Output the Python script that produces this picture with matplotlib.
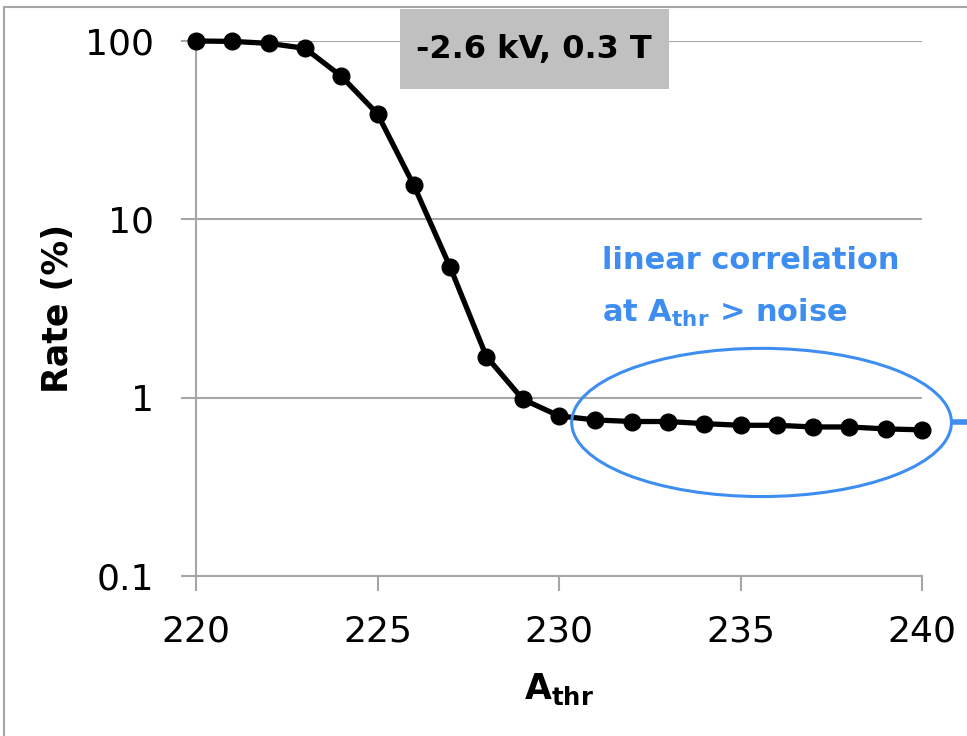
import matplotlib
matplotlib.use('Agg')
import matplotlib.pyplot as plt
from matplotlib.patches import Ellipse, Rectangle
from matplotlib.lines import Line2D

# threshold scan, -2.6 kV / 0.3 T
a_thr = [220, 221, 222, 223, 224, 225, 226, 227, 228, 229, 230,
         231, 232, 233, 234, 235, 236, 237, 238, 239, 240]
rate = [100, 99.5, 97, 91, 63.5, 39, 15.5, 5.4, 1.7, 0.98, 0.79,
        0.75, 0.735, 0.735, 0.715, 0.70, 0.70, 0.685, 0.685, 0.668, 0.66]
y_ticks = [0.1, 1, 10, 100]
y_ticklabels = ['0.1', '1', '10', '100']
x_ticks = [220, 225, 230, 235, 240]

grid_col = '#a6a6a6'
blue = '#3d8ef0'

plt.rcParams['font.family'] = 'DejaVu Sans'

fig = plt.figure(figsize=(9.67, 7.36), dpi=100)
ax = fig.add_axes([0.2027, 0.2174, 0.7508, 0.7269])

ax.plot(a_thr, rate, '-', color='black', linewidth=3.8,
        marker='o', markersize=12, zorder=5, clip_on=False)

ax.set_yscale('log')
ax.set_ylim(0.1, 100)
ax.set_xlim(220, 240)
ax.set_yticks(y_ticks)
ax.set_yticklabels(y_ticklabels)
ax.minorticks_off()
ax.set_xticks(x_ticks)
ax.yaxis.grid(True, color=grid_col, linewidth=1.5)
ax.set_axisbelow(True)
for s in ['top', 'right']:
    ax.spines[s].set_visible(False)
for s in ['left', 'bottom']:
    ax.spines[s].set_color(grid_col)
    ax.spines[s].set_linewidth(1.5)
ax.tick_params(axis='both', colors=grid_col, width=1.5, length=10.5,
               labelcolor='black', labelsize=26)
ax.tick_params(axis='x', pad=17)
ax.tick_params(axis='y', pad=20)

ax.set_ylabel('Rate (%)', fontsize=25, fontweight='bold', va='center')
ax.yaxis.set_label_coords(-0.19, 0.5)
ax.set_xlabel(r'A$_{\mathbf{thr}}$', fontsize=25, fontweight='bold', va='top')
ax.xaxis.set_label_coords(0.5, -0.178)

# annotation box at top
fig.add_artist(Rectangle((0.4137, 0.879), 0.278, 0.1087, transform=fig.transFigure,
                         facecolor='#c0c0c0', edgecolor='none', zorder=3))
fig.text(0.5525, 0.933, '-2.6 kV, 0.3 T', fontsize=23, fontweight='bold',
         ha='center', va='center', zorder=4)

# blue annotation
fig.text(0.6225, 0.634, 'linear correlation', color=blue, fontsize=22,
         fontweight='bold', va='baseline')
fig.text(0.6225, 0.563, r'at A$_{\mathbf{thr}}$ > noise', color=blue, fontsize=22,
         fontweight='bold', va='baseline')
ell = Ellipse((0.779, 0.287), 0.523, 0.277, transform=ax.transAxes,
              fill=False, edgecolor=blue, linewidth=2.2, clip_on=False, zorder=6)
ax.add_patch(ell)
fig.add_artist(Line2D([0.987, 1.0], [0.426, 0.426], color=blue, linewidth=4))

# outer frame
fig.add_artist(Line2D([0.0041, 0.0041], [0.0, 0.9905], color=grid_col, linewidth=1.5))
fig.add_artist(Line2D([0.0041, 1.0], [0.9905, 0.9905], color=grid_col, linewidth=1.5))

fig.savefig('out.png', dpi=100)
